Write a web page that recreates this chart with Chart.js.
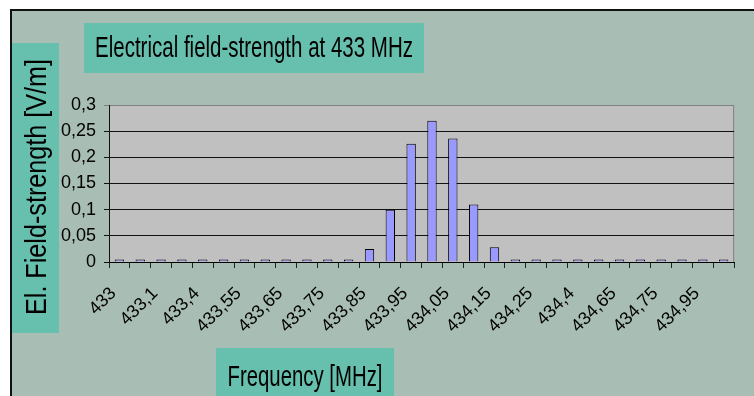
<!DOCTYPE html>
<html>
<head>
<meta charset="utf-8">
<script src="https://cdn.jsdelivr.net/npm/chart.js@4.4.1/dist/chart.umd.min.js"></script>
<style>
  html, body { margin: 0; padding: 0; background: #fff; }
  #wrap { width: 754px; height: 396px; }
</style>
</head>
<body>
<div id="wrap"><canvas id="chart" width="754" height="396"></canvas></div>
<script>
// frequencies (MHz), only every other one is shown as a tick label
var freqs = ["433", "433,05", "433,1", "433,25", "433,4", "433,5", "433,55", "433,6",
  "433,65", "433,7", "433,75", "433,8", "433,85", "433,9", "433,95", "434",
  "434,05", "434,1", "434,15", "434,2", "434,25", "434,3", "434,4", "434,5",
  "434,65", "434,7", "434,75", "434,85", "434,95", "435"];
// field strength in V/m
var fieldStrength = [0.005, 0.005, 0.005, 0.005, 0.005, 0.005, 0.005, 0.005,
  0.005, 0.005, 0.005, 0.005, 0.025, 0.1, 0.226, 0.27,
  0.236, 0.11, 0.028, 0.005, 0.005, 0.005, 0.005, 0.005,
  0.005, 0.005, 0.005, 0.005, 0.005, 0.005];

var titleText = "Electrical field-strength at 433 MHz";
var xTitleText = "Frequency [MHz]";
var yTitleText = "El. Field-strength [V/m]";

var boxColor = "#67c0ae";
var backColor = "#a8bdb3";
var fontFam = "'Liberation Sans', Arial, sans-serif";

var frame = {
  id: "frame",
  beforeDraw: function (chart) {
    var ctx = chart.ctx, a = chart.chartArea;
    ctx.save();
    ctx.fillStyle = "#fff";
    ctx.fillRect(0, 0, 754, 396);
    ctx.fillStyle = backColor;
    ctx.fillRect(11, 10, 754, 396);
    ctx.fillStyle = "#111";
    ctx.fillRect(10, 9, 754, 2);
    ctx.fillRect(10, 9, 2, 396);
    ctx.fillStyle = "#c0c0c0";
    ctx.fillRect(a.left, a.top, a.right - a.left, a.bottom - a.top);
    ctx.strokeStyle = "#808080";
    ctx.lineWidth = 1;
    ctx.strokeRect(a.left + 0.5, a.top + 0.5, a.right - a.left - 1, a.bottom - a.top);
    ctx.restore();
  },
  afterDraw: function (chart) {
    var ctx = chart.ctx;
    ctx.save();
    ctx.fillStyle = boxColor;
    ctx.fillRect(84, 23, 340, 50);
    ctx.fillRect(216, 348, 178, 48);
    ctx.fillRect(12, 43, 47, 290);
    ctx.fillStyle = "#000";
    ctx.textAlign = "center";
    ctx.textBaseline = "middle";
    ctx.font = "30px " + fontFam;
    ctx.fillText(titleText, 254, 49, 318);
    ctx.fillText(xTitleText, 305, 378, 155);
    ctx.font = "29px " + fontFam;
    ctx.translate(38, 187);
    ctx.rotate(-Math.PI / 2);
    ctx.fillText(yTitleText, 0, 0, 256);
    ctx.restore();
  }
};

new Chart(document.getElementById("chart"), {
  type: "bar",
  data: {
    labels: freqs,
    datasets: [{
      data: fieldStrength,
      backgroundColor: "#9999ff",
      borderColor: "#000",
      borderWidth: 1,
      borderSkipped: "bottom",
      barPercentage: 0.45,
      categoryPercentage: 1
    }]
  },
  plugins: [frame],
  options: {
    responsive: false,
    animation: false,
    layout: { padding: { left: 0, top: 105, right: 1, bottom: 0 } },
    plugins: {
      legend: { display: false },
      tooltip: { enabled: false }
    },
    scales: {
      x: {
        offset: true,
        afterFit: function (s) { s.height = 134; },
        grid: {
          offset: true,
          drawOnChartArea: false,
          tickLength: 6,
          color: "#222"
        },
        border: { color: "#000", width: 1 },
        ticks: {
          autoSkip: false,
          minRotation: 45,
          maxRotation: 45,
          padding: 15,
          labelOffset: -6,
          color: "#000",
          font: { family: fontFam, size: 18 },
          callback: function (v, i) { return i % 2 === 0 ? freqs[i] : ""; }
        }
      },
      y: {
        min: 0,
        max: 0.3,
        afterFit: function (s) { s.width = 109; },
        grid: {
          tickLength: 5,
          color: function (c) { return c.tick && c.tick.value >= 0.3 ? "#808080" : "#111"; }
        },
        border: { color: "#111", width: 1 },
        ticks: {
          stepSize: 0.05,
          padding: 8,
          color: "#000",
          font: { family: fontFam, size: 18 },
          callback: function (v) { return (Math.round(v * 100) / 100).toString().replace(".", ","); }
        }
      }
    }
  }
});
</script>
</body>
</html>
